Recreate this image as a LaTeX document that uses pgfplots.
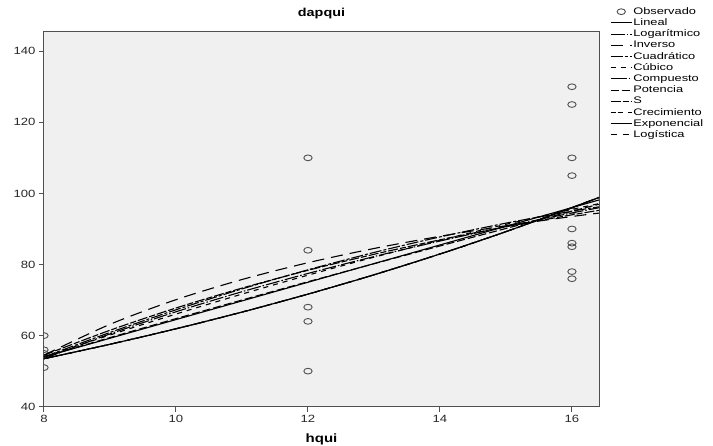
\documentclass[border=0pt]{standalone}
\usepackage{fontspec}
\setmainfont{Liberation Sans}
\newfontfamily\tickfont{Liberation Sans}[FakeStretch=1.25]
\newfontfamily\legfont{Liberation Sans}[FakeStretch=1.35]
\usepackage{pgfplots}
\pgfplotsset{compat=1.18}

\definecolor{plotbg}{HTML}{F0F0F0}
\definecolor{framegray}{HTML}{505050}

\begin{document}
\begin{tikzpicture}
\useasboundingbox (-44pt,-39.3pt) rectangle (669pt,406.7pt);
\begin{axis}[
  scale only axis, width=555pt, height=374.7pt,
  xmin=8, xmax=16.41, ymin=40, ymax=145.4,
  xtick={8,10,12,14,16}, ytick={40,60,80,100,120,140},
  tick align=outside, xtick pos=bottom, ytick pos=left,
  major tick length=5pt,
  axis line style={framegray, line width=1pt},
  every tick/.style={framegray, line width=1pt},
  axis background/.style={fill=plotbg},
  /pgf/number format/assume math mode=true,
  tick label style={font=\tickfont\fontsize{10.5}{12}\selectfont, text=black!85},
  title={dapqui},
  title style={font=\tickfont\bfseries\fontsize{11.5}{13}\selectfont, at={(0.5,1)}, anchor=center, yshift=12pt},
  xlabel={hqui},
  xlabel style={font=\tickfont\bfseries\fontsize{12}{13}\selectfont, at={(0.5,0)}, anchor=center, yshift=-33pt},
  clip marker paths=true,
  every axis plot/.append style={black, line width=1.1pt},
  legend style={at={(1.0144,1.075)}, anchor=north west, draw=none, fill=none,
    font=\legfont\fontsize{9.5}{10}\selectfont, row sep=0pt,
    nodes={inner sep=1pt, text height=7.2pt, text depth=2pt}},
  legend cell align=left,
  legend image code/.code={\draw[#1] (0pt,0pt) -- (21pt,0pt);},
]
\addplot[only marks, mark=o, framegray, line width=0.9pt, mark size=3.2pt,
  mark options={xscale=1.3, yscale=0.9},
  legend image code/.code={\draw[mark repeat=2,mark phase=2] plot coordinates {(0pt,0pt) (10.5pt,0pt) (21pt,0pt)};}]
  coordinates {
  (8,60) (8,56) (8,55) (8,51)
  (12,110) (12,84) (12,68) (12,64) (12,50)
  (16,130) (16,125) (16,110) (16,105) (16,95) (16,90) (16,86) (16,85) (16,78) (16,76)
  };
\addlegendentry{Observado}
% Lineal
\addplot[solid] coordinates {
  (8,54) (9,59.25) (10,64.5) (11,69.75) (12,75) (13,80.25) (14,85.5) (15,90.75) (16,96) (16.41,98.15)};
\addlegendentry{Lineal}
% Logaritmico
\addplot[smooth, dash pattern=on 14pt off 2pt on 1.5pt off 2pt] coordinates {
  (8,53.5) (9,60.47) (10,66.70) (11,72.34) (12,77.48) (13,82.22) (14,86.60) (15,90.68) (16,94.5) (16.41,95.96)};
\addlegendentry{Logarítmico}
% Inverso
\addplot[smooth, dash pattern=on 12pt off 7pt] coordinates {
  (8,54.5) (9,63.17) (10,70.1) (11,75.77) (12,80.5) (13,84.5) (14,87.93) (15,90.9) (16,93.5) (16.41,94.45)};
\addlegendentry{Inverso}
% Cuadratico
\addplot[smooth, dash pattern=on 12pt off 2pt on 3pt off 2pt] coordinates {
  (8,54) (9,60.88) (10,67.25) (11,73.13) (12,78.5) (13,83.38) (14,87.75) (15,91.63) (16,95) (16.41,96.21)};
\addlegendentry{Cuadrático}
% Cubico
\addplot[smooth, dash pattern=on 5pt off 5pt] coordinates {
  (8,54) (9,60.17) (10,66.06) (11,71.67) (12,77) (13,82.05) (14,86.81) (15,91.30) (16,95.5) (16.41,97.10)};
\addlegendentry{Cúbico}
% Compuesto
\addplot[smooth, dash pattern=on 16pt off 2pt on 1.5pt off 2pt] coordinates {
  (8,53.5) (9,57.56) (10,61.92) (11,66.61) (12,71.67) (13,77.10) (14,82.95) (15,89.24) (16,96.0) (16.41,98.85)};
\addlegendentry{Compuesto}
% Potencia
\addplot[smooth, dash pattern=on 8pt off 3pt] coordinates {
  (8,54) (9,59.44) (10,64.77) (11,70.00) (12,75.15) (13,80.21) (14,85.21) (15,90.13) (16,95.0) (16.41,96.93)};
\addlegendentry{Potencia}
% S
\addplot[smooth, dash pattern=on 10pt off 2pt on 6pt off 2pt] coordinates {
  (8,54.5) (9,61.5) (10,67.76) (11,73.35) (12,78.36) (13,82.86) (14,86.93) (15,90.62) (16,93.97) (16.41,95.23)};
\addlegendentry{S}
% Crecimiento
\addplot[smooth, dash pattern=on 5pt off 2pt on 5pt off 5pt] coordinates {
  (8,53.5) (9,57.56) (10,61.92) (11,66.61) (12,71.67) (13,77.10) (14,82.95) (15,89.24) (16,96.0) (16.41,98.85)};
\addlegendentry{Crecimiento}
% Exponencial
\addplot[smooth, solid] coordinates {
  (8,53.5) (9,57.56) (10,61.92) (11,66.61) (12,71.67) (13,77.10) (14,82.95) (15,89.24) (16,96.0) (16.41,98.85)};
\addlegendentry{Exponencial}
% Logistica
\addplot[smooth, dash pattern=on 6pt off 6pt] coordinates {
  (8,53.5) (9,57.56) (10,61.92) (11,66.61) (12,71.67) (13,77.10) (14,82.95) (15,89.24) (16,96.0) (16.41,98.85)};
\addlegendentry{Logística}
\end{axis}
\end{tikzpicture}
\end{document}
